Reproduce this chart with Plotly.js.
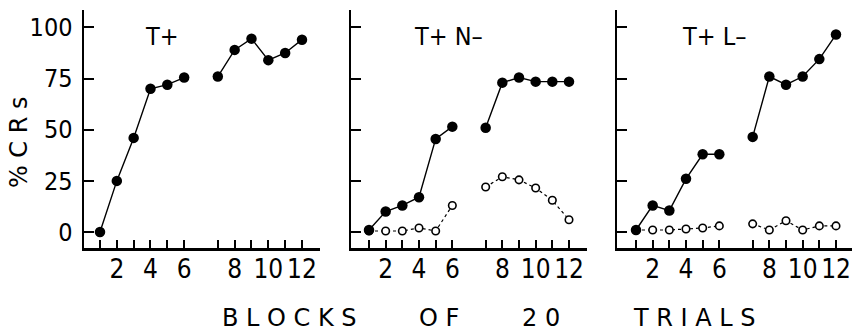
<!DOCTYPE html>
<html><head><meta charset="utf-8">
<script src="https://cdn.plot.ly/plotly-3.0.1.min.js"></script>
<style>html,body{margin:0;padding:0;background:#fff}#c{width:852px;height:334px}</style>
</head><body><div id="c"></div>
<script>
const blocks = [1,2,3,4,5,6,7,8,9,10,11,12];
const tickLabels = ["","2","","4","","6","","8","","10","","12"];
const yTickVals = [0,25,50,75,100];
const panelTitles = ["T+","T+ N\u2013","T+ L\u2013"];
const titleWords = ["B L O C K S","O F","2 0","T R I A L S"];
const tPlus = [0,25,46,70,72,75.5,76,89,94.5,84,87.5,94];
const tnPos = [1,10,13,17,45.5,51.5,51,73,75.5,73.5,73.5,73.5];
const tnNeg = [0.5,0.5,0.5,2,0.5,13,22,27,25.5,21.5,15.5,6];
const tlPos = [1,13,10.5,26,38,38,46.5,76,72,76,84.5,96.5];
const tlNeg = [1,1,1,1.5,2,3,4,1,5.5,1,3,3];

// blocks 7-12 sit one slot to the right (gap on the axis)
const xpos = blocks.map(b => b <= 6 ? b : b + 1);
function withGap(arr){ // insert a null after block 6 so the line breaks
  const x = [], y = [];
  blocks.forEach((b,i)=>{ x.push(xpos[i]); y.push(arr[i]); if(b===6){x.push(7); y.push(null);} });
  return {x,y};
}
const NARROW = '"Liberation Sans Narrow","DejaVu Sans Condensed",Arial,sans-serif';
const WIDE = '"DejaVu Sans",Arial,sans-serif';
function filled(arr, ax){
  const d = withGap(arr);
  return {x:d.x, y:d.y, xaxis:'x'+ax, yaxis:'y'+ax, mode:'lines+markers', connectgaps:false,
    line:{color:'#000', width:1.4}, marker:{color:'#000', size:10.5}, showlegend:false, hoverinfo:'skip'};
}
function open(arr, ax){
  const d = withGap(arr);
  return {x:d.x, y:d.y, xaxis:'x'+ax, yaxis:'y'+ax, mode:'lines+markers', connectgaps:false,
    line:{color:'#000', width:1.2, dash:'3px,3px'}, marker:{color:'#fff', size:7.5, line:{color:'#000', width:1.6}},
    showlegend:false, hoverinfo:'skip'};
}
const traces = [
  open(tnNeg,'2'), filled(tnPos,'2'),
  open(tlNeg,'3'), filled(tlPos,'3'),
  filled(tPlus,''),
];

const domains = [[84/852,320/852],[351/852,587/852],[617/852,1]];
const ranges = [[0.05,14.07],[-0.08,14.08],[-0.14,13.96]];
const titleX = [0.25,0.258,0.268];
const layout = {
  width:852, height:334, margin:{l:0,r:0,t:10,b:86},
  paper_bgcolor:'#fff', plot_bgcolor:'#fff',
  font:{family:NARROW, color:'#000', size:25},
  annotations:[], showlegend:false
};
['','2','3'].forEach((s,i)=>{
  layout['xaxis'+s] = {domain:domains[i], range:ranges[i], anchor:'y'+s,
    showline:true, linewidth:2.5, linecolor:'#000', showgrid:false, zeroline:false,
    tickmode:'array', tickvals:xpos, ticktext:tickLabels, ticks:'inside', ticklen:8, tickwidth:2, tickcolor:'#000',
    tickfont:{family:NARROW, size:26}, ticklabelstandoff:-4, fixedrange:true};
  layout['yaxis'+s] = {domain:[0,1], range:[-7.8,108.5], anchor:'x'+s,
    showline:true, linewidth:2.5, linecolor:'#000', showgrid:false, zeroline:false,
    tickmode:'array', tickvals:yTickVals, ticktext: i===0?yTickVals.map(String):yTickVals.map(()=>''),
    ticks:'inside', ticklen:10, tickwidth:2, tickcolor:'#000',
    tickfont:{family:NARROW, size:25}, ticklabelstandoff:4, fixedrange:true};
  layout.annotations.push({text:panelTitles[i], xref:'x'+s+' domain', yref:'y'+s+' domain',
    x:titleX[i], y:0.89, xanchor:'left', yanchor:'middle', showarrow:false,
    font:{family:NARROW, size:25}});
});
layout.annotations.push({text:'% C R s', xref:'paper', yref:'paper', x:19/852, y:0.445, textangle:-90,
  showarrow:false, xanchor:'center', yanchor:'middle', font:{family:WIDE, size:24}});
const wordCenters = [289/852, 439/852, 541/852, 694/852];
titleWords.forEach((w,i)=>{
  layout.annotations.push({text:w, xref:'paper', yref:'paper', x:wordCenters[i], y:-0.294,
    xanchor:'center', yanchor:'middle', showarrow:false, font:{family:WIDE, size:24}});
});
Plotly.newPlot('c', traces, layout, {staticPlot:true});
</script></body></html>
